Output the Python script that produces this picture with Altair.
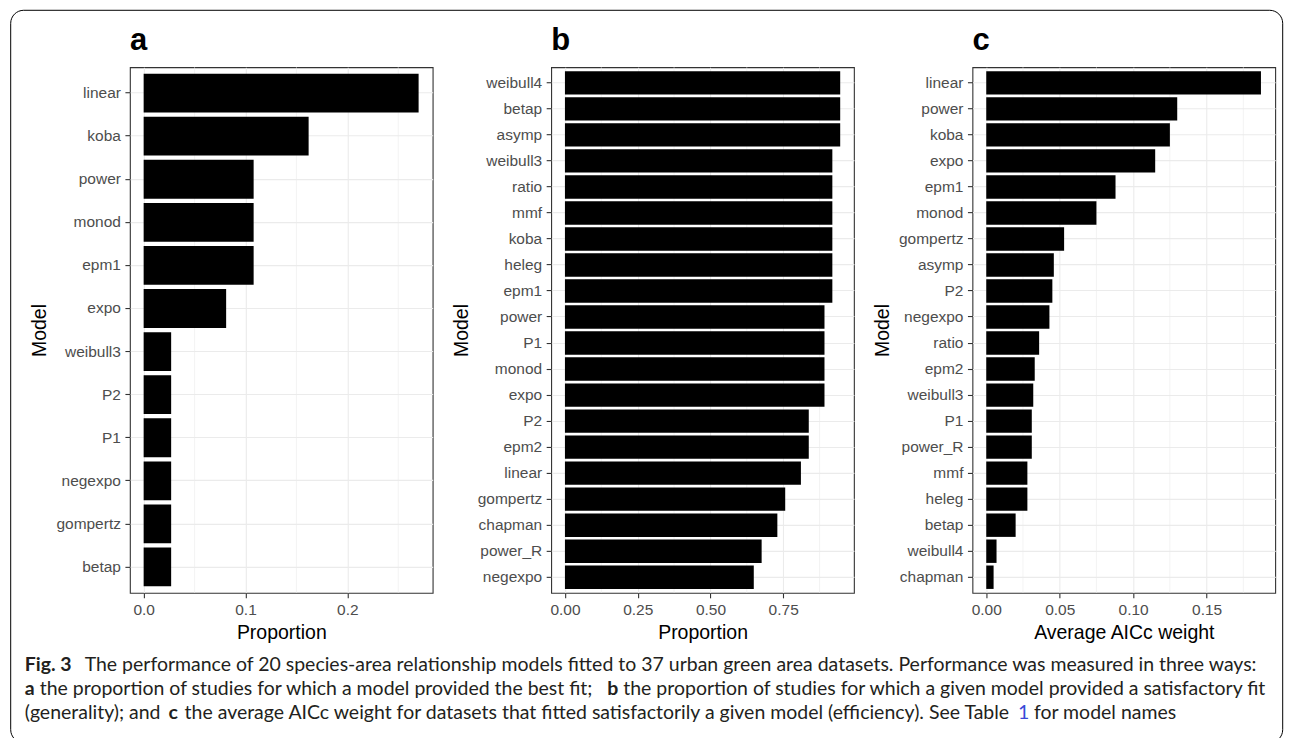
import altair as alt
import pandas as pd

# ---------------- data ----------------
a_models = ["linear", "koba", "power", "monod", "epm1", "expo", "weibull3",
            "P2", "P1", "negexpo", "gompertz", "betap"]
a_values = [0.270, 0.162, 0.108, 0.108, 0.108, 0.081, 0.027,
            0.027, 0.027, 0.027, 0.027, 0.027]

b_models = ["weibull4", "betap", "asymp", "weibull3", "ratio", "mmf", "koba",
            "heleg", "epm1", "power", "P1", "monod", "expo", "P2", "epm2",
            "linear", "gompertz", "chapman", "power_R", "negexpo"]
b_values = [0.946, 0.946, 0.946, 0.919, 0.919, 0.919, 0.919,
            0.919, 0.919, 0.892, 0.892, 0.892, 0.892, 0.838, 0.838,
            0.811, 0.757, 0.730, 0.676, 0.649]

c_models = ["linear", "power", "koba", "expo", "epm1", "monod", "gompertz",
            "asymp", "P2", "negexpo", "ratio", "epm2", "weibull3", "P1",
            "power_R", "mmf", "heleg", "betap", "weibull4", "chapman"]
c_values = [0.187, 0.130, 0.125, 0.115, 0.088, 0.075, 0.053,
            0.046, 0.045, 0.043, 0.036, 0.033, 0.032, 0.031,
            0.031, 0.028, 0.028, 0.020, 0.007, 0.005]

a_ticks = [0.0, 0.1, 0.2]
a_minor = [0.05, 0.15, 0.25]
b_ticks = [0.0, 0.25, 0.50, 0.75]
b_minor = [0.125, 0.375, 0.625, 0.875]
c_ticks = [0.0, 0.05, 0.10, 0.15]
c_minor = [0.025, 0.075, 0.125, 0.175]

panel_labels = ["a", "b", "c"]
x_titles = ["Proportion", "Proportion", "Average AICc weight"]
y_title = "Model"

caption_text = [
    ("Fig. 3", "bold", 0),
    ("The performance of 20 species-area relationship models fitted to 37 urban green area datasets. Performance was measured in three ways:", "normal", 0),
    ("a", "bold", 1),
    ("the proportion of studies for which a model provided the best fit;", "normal", 1),
    ("b", "bold", 1),
    ("the proportion of studies for which a given model provided a satisfactory fit", "normal", 1),
    ("(generality); and", "normal", 2),
    ("c", "bold", 2),
    ("the average AICc weight for datasets that fitted satisfactorily a given model (efficiency). See Table", "normal", 2),
    ("1", "link", 2),
    ("for model names", "normal", 2),
]

# ---------------- layout (page pixels) ----------------
OX, OY = 129.3, 66.0          # top-left of panel a plot area
PW, PH = 303.0, 526.0
GAP = 118.6
caption_x = [24, 84, 24, 39, 607, 623, 24, 168, 184, 1018, 1034]
line_y = [670, 694, 718]
frame = dict(x1=10, y1=9, x2=1283, y2=742, r=13)
label_baseline = 48.7         # page y of the a/b/c panel letters

FONT = "Liberation Sans"
CAP_FONT = "Lato"
CAP_SIZE = 19.5


def panel(models, values, label, domain, ticks, minor, fmt, xtitle, extra=None):
    df = pd.DataFrame({"model": models, "value": values})
    xscale = alt.Scale(domain=domain, nice=False, zero=False)
    xaxis = alt.Axis(values=ticks, format=fmt, title=xtitle)
    bars = alt.Chart(df).mark_bar(color="black").encode(
        x=alt.X("value:Q", scale=xscale, axis=xaxis),
        y=alt.Y("model:N", sort=models,
                scale=alt.Scale(paddingInner=0.1, paddingOuter=0.15),
                axis=alt.Axis(title=y_title, bandPosition=0.5)),
    )
    minor_rules = alt.Chart(pd.DataFrame({"m": minor})).mark_rule(
        color="#ebebeb", strokeWidth=0.6
    ).encode(x=alt.X("m:Q", scale=xscale, axis=xaxis))
    tag = alt.Chart(pd.DataFrame({"label": [label]})).mark_text(
        align="left", baseline="alphabetic", font=FONT, fontSize=31,
        fontWeight="bold", color="black"
    ).encode(x=alt.value(0), y=alt.value(label_baseline - OY), text="label:N")
    layers = [minor_rules, bars, tag]
    if extra:
        layers += extra
    return alt.layer(*layers).properties(width=PW, height=PH)


# frame + caption drawn as decoration layers attached to panel a
frame_layer = alt.Chart(pd.DataFrame({"k": [0]})).mark_rect(
    fill="transparent", stroke="black", strokeWidth=1, cornerRadius=frame["r"]
).encode(
    x=alt.value(frame["x1"] - OX), x2=alt.value(frame["x2"] - OX),
    y=alt.value(frame["y1"] - OY), y2=alt.value(frame["y2"] - OY),
)

cap_df = pd.DataFrame({
    "text": [t for t, _, _ in caption_text],
    "kind": [k for _, k, _ in caption_text],
    "px": [x - OX for x in caption_x],
    "py": [line_y[l] - OY for _, _, l in caption_text],
})


def cap_layer(kind, weight, color):
    return alt.Chart(cap_df).transform_filter(
        alt.datum.kind == kind
    ).mark_text(
        align="left", baseline="alphabetic", font=CAP_FONT, fontSize=CAP_SIZE,
        fontWeight=weight, color=color
    ).encode(
        x=alt.X("px:Q", scale=None, axis=None),
        y=alt.Y("py:Q", scale=None, axis=None),
        text="text:N",
    )


extra = [frame_layer,
         cap_layer("normal", "normal", "#231f20"),
         cap_layer("bold", "bold", "#231f20"),
         cap_layer("link", "normal", "#3a49d8")]

pa = panel(a_models, a_values, panel_labels[0], [-0.0135, 0.2838], a_ticks, a_minor, ".1f", x_titles[0], extra)
pb = panel(b_models, b_values, panel_labels[1], [-0.0473, 0.9932], b_ticks, b_minor, ".2f", x_titles[1])
pc = panel(c_models, c_values, panel_labels[2], [-0.0094, 0.1967], c_ticks, c_minor, ".2f", x_titles[2])

chart = alt.hconcat(pa, pb, pc, spacing=GAP, bounds="flush").properties(
    padding={"left": 1, "top": 0, "right": 0, "bottom": 0}
).configure_view(
    stroke="#333333", strokeWidth=1.1
).configure_axis(
    domain=False, grid=True, gridColor="#ebebeb", gridWidth=1.1,
    tickColor="#333333", tickSize=5, tickWidth=1.1,
    labelColor="#4d4d4d", labelFont=FONT, labelFontSize=15.5, labelPadding=4.5,
    titleColor="black", titleFont=FONT, titleFontSize=19.5, titleFontWeight="normal",
    titlePadding=6,
)

chart.save("out.html", embed_options={"renderer": "svg", "actions": False})
